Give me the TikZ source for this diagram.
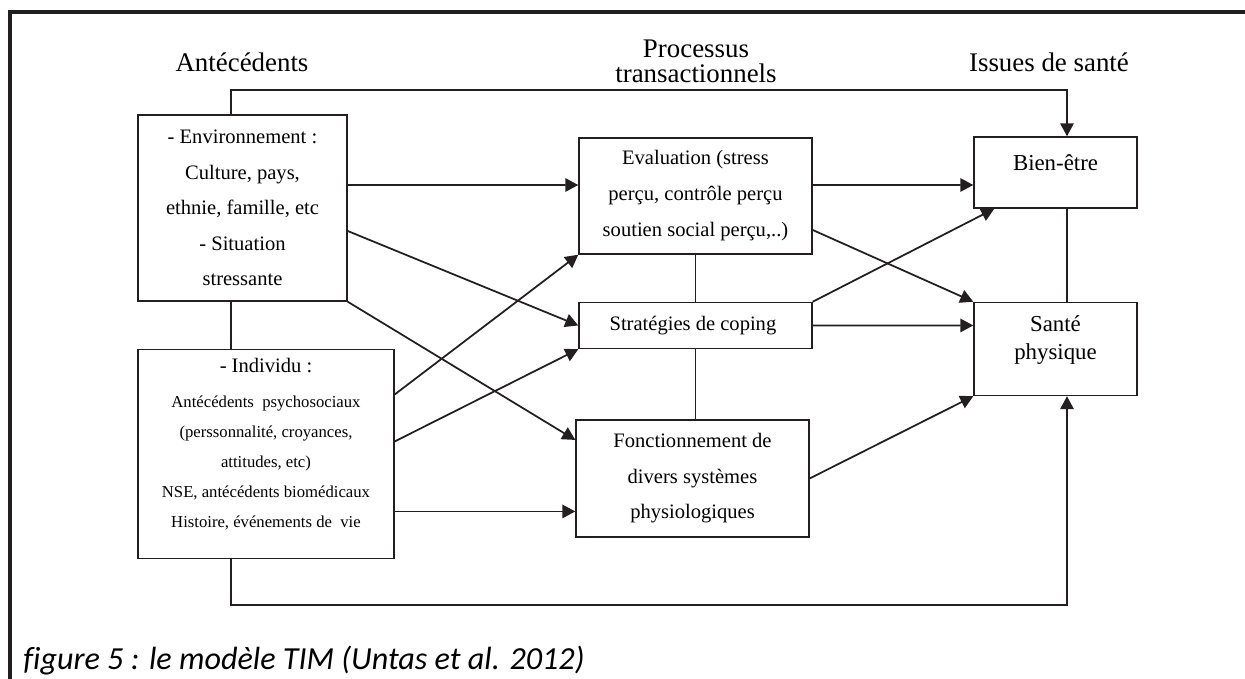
\documentclass[tikz,border=0pt]{standalone}
\usepackage{fontspec}
\setmainfont{Liberation Serif}
\newfontfamily\capfont[Ligatures=NoCommon]{Carlito}
\usepackage{tikz}
\usetikzlibrary{arrows.meta, positioning}
\definecolor{inkgray}{HTML}{231F20}

\begin{document}
\begin{tikzpicture}[
  x=0.02cm, y=-0.02cm,
  box/.style={
    rectangle, draw=inkgray, fill=white, line width=0.85pt,
    align=center, inner sep=0pt,
    font=\fontsize{11.7}{20.2}\selectfont,
  },
  hdr/.style={font=\fontsize{15.3}{14.2}\selectfont, align=center, inner sep=0pt},
  link/.style={draw=inkgray, line width=1pt},
  arr/.style={link, -{Triangle[length=0.26cm, width=0.27cm]}},
  node distance=0.94cm and 4.64cm,
]
  \useasboundingbox (0,0) rectangle (1245,679);

  % Frame (left and top only)
  \draw[inkgray, line width=1.9pt] (10,679) -- (10,12) -- (1245,12);

  % Column titles
  \node[hdr] (hant) at (242,62) {Antécédents};
  \node[hdr] (hproc) at (696,61) {Processus\\transactionnels};
  \node[hdr] (hiss) at (1049,62) {Issues de santé};

  % Antecedents (left column)
  \node[box, minimum width=4.18cm, minimum height=3.72cm] (env) at (242.5,208) {
    - Environnement :\\
    Culture, pays,\\
    ethnie, famille, etc\\
    - Situation\\
    stressante
  };
  \node[box, minimum width=5.12cm, minimum height=4.18cm, text depth=0.45cm,
        font=\fontsize{9.5}{17}\selectfont,
        below right=0.94cm and 0cm of env.south west] (indiv) {
    {\fontsize{11.7}{20.2}\selectfont - Individu :}\\[0.1cm]
    Antécédents\ \ psychosociaux\\
    (perssonnalité, croyances,\\
    attitudes, etc)\\
    NSE, antécédents biomédicaux\\
    Histoire, événements de\ \ vie
  };

  % Transactional processes (middle column)
  \node[box, minimum width=4.66cm, minimum height=2.32cm,
        font=\fontsize{11.7}{20.5}\selectfont] (eval) at (695.5,196) {
    Evaluation (stress\\
    perçu, contrôle perçu\\
    soutien social perçu,..)
  };
  \node[box, minimum width=4.66cm, minimum height=0.92cm, below=0.94cm of eval] (strat) {
    Stratégies de coping
  };
  \node[box, minimum width=4.66cm, minimum height=2.34cm, below=1.4cm of strat, xshift=-0.06cm] (fonct) {
    Fonctionnement de\\
    divers systèmes\\
    physiologiques
  };

  % Health outcomes (right column)
  \node[box, minimum width=3.26cm, minimum height=1.42cm, text depth=0.4cm,
        font=\fontsize{13}{16}\selectfont] (bien) at (1055.5,172.5) {Bien-être};
  \node[box, minimum width=3.26cm, minimum height=1.86cm, text depth=0.44cm,
        font=\fontsize{13}{16}\selectfont, below=1.86cm of bien] (sante) {
    Santé\\
    physique
  };

  % Plain links
  \draw[link] ([xshift=-0.23cm]env.south) -- ([xshift=-0.7cm]indiv.north);
  \draw[link] (eval.south) -- (strat.north);
  \draw[link] (strat.south) -- (strat.south |- fonct.north);
  \draw[link] ([xshift=0.23cm]bien.south) -- ([xshift=0.23cm]sante.north);

  % Arrows from Antecedents
  \coordinate (nse) at ([yshift=-1.15cm]indiv.east);
  \draw[arr] ([yshift=0.46cm]env.east) -- ([yshift=0.22cm]eval.west);
  \draw[arr] ([yshift=-0.46cm]env.east) -- (strat.west);
  \draw[arr] (env.south east) -- ([yshift=0.77cm]fonct.west);
  \draw[arr] ([yshift=1.19cm]indiv.east) -- (eval.south west);
  \draw[arr] ([yshift=0.25cm]indiv.east) -- (strat.south west);
  \draw[arr] (nse) -- (nse -| fonct.west);
  \draw[arr] ([xshift=-0.23cm]env.north) -- ++(0,-24) -| ([xshift=0.23cm]bien.north);
  \draw[arr] ([xshift=-0.7cm]indiv.south) -- ++(0,46) -| ([xshift=0.23cm]sante.south);

  % Arrows to outcomes
  \draw[arr] ([yshift=0.22cm]eval.east) -- ([yshift=-0.25cm]bien.west);
  \draw[arr] ([yshift=-0.68cm]eval.east) -- (sante.north west);
  \draw[arr] (strat.north east) -- ([xshift=0.42cm]bien.south west);
  \draw[arr] (strat.east) -- ([yshift=0.47cm]sante.west);
  \draw[arr] (fonct.east) -- (sante.south west);

  % Caption
  \node[anchor=base west, inner sep=0pt, font=\capfont\itshape\fontsize{18.3}{22}\selectfont] (caption) at (23,669)
    {figure 5 : le modèle TIM (Untas et al. 2012)};
\end{tikzpicture}
\end{document}
